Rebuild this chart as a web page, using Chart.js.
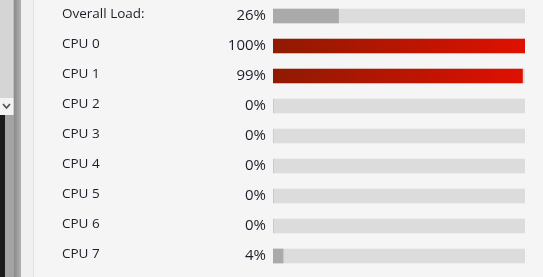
<!DOCTYPE html>
<html>
<head>
    <title>CPU Load</title>
    <style type="text/css">
        body { margin: 0; background: #f5f5f5; width: 543px; height: 277px; overflow: hidden; position: relative; }
        .side { position: absolute; }
        #chart-container { position: absolute; left: 0; top: 0; width: 543px; height: 277px; }
    </style>
    <script src="https://cdn.jsdelivr.net/npm/chart.js@4/dist/chart.umd.min.js"></script>
</head>
<body>
<div class="side" style="left:0;top:0;width:13px;height:98px;background:#d5d5d5;border-right:1px solid #bdbdbd"></div>
<div class="side" style="left:0;top:98px;width:13px;height:17px;background:#f3f3f3;border-right:1px solid #d0d0d0">
    <svg width="13" height="17"><polyline points="3,6 6.5,10 10,6" fill="none" stroke="#555" stroke-width="1.8"/></svg>
</div>
<div class="side" style="left:0;top:115px;width:5px;height:162px;background:#1a1a1a"></div>
<div class="side" style="left:5px;top:115px;width:9px;height:162px;background:#a3a3a3"></div>
<div class="side" style="left:14px;top:0;width:7px;height:277px;background:linear-gradient(to right,#8a8a8a,#b2b2b2)"></div>
<div class="side" style="left:21px;top:0;width:12px;height:277px;background:#f0f0f0;border-right:1px solid #e1e1e1"></div>

<div id="chart-container">
    <canvas id="graphCanvas"></canvas>
</div>

<script>
    var names = ['Overall Load:', 'CPU 0', 'CPU 1', 'CPU 2', 'CPU 3', 'CPU 4', 'CPU 5', 'CPU 6', 'CPU 7'];
    var load = [26, 100, 99, 0, 0, 0, 0, 0, 4];
    var track = [100, 100, 100, 100, 100, 100, 100, 100, 100];

    function fillColor(ctx) {
        var chart = ctx.chart;
        var area = chart.chartArea;
        if (!area) return '#aaaaaa';
        if (ctx.dataIndex == 1 || ctx.dataIndex == 2) {
            var g = chart.ctx.createLinearGradient(area.left, 0, area.right, 0);
            g.addColorStop(0, '#8f1a00');
            g.addColorStop(1, '#e01000');
            return g;
        }
        return '#aaaaaa';
    }

    var rowLabels = {
        id: 'rowLabels',
        afterDraw: function (chart) {
            var c = chart.ctx;
            var y = chart.scales.y;
            c.save();
            c.fillStyle = '#1e1e2a';
            c.textBaseline = 'middle';
            for (var i = 0; i < names.length; i++) {
                var py = y.getPixelForValue(i);
                c.font = '13.5px "Open Sans"';
                c.textAlign = 'left';
                c.fillText(names[i], 62, py - 1.5);
                c.font = '15px "Open Sans"';
                c.textAlign = 'right';
                c.fillText(load[i] + '%', 266, py);
            }
            c.restore();
        }
    };

    new Chart(document.getElementById('graphCanvas'), {
        type: 'bar',
        data: {
            labels: names,
            datasets: [
                { data: load, backgroundColor: fillColor, barThickness: 14, order: 1 },
                { data: track, backgroundColor: '#dcdcdc', barThickness: 14, order: 2 }
            ]
        },
        options: {
            indexAxis: 'y',
            responsive: true,
            maintainAspectRatio: false,
            animation: false,
            grouped: false,
            layout: { padding: { left: 273, right: 18, top: 1, bottom: 6 } },
            scales: {
                x: { display: false, min: 0, max: 100 },
                y: { display: false }
            },
            plugins: { legend: { display: false }, tooltip: { enabled: false } }
        },
        plugins: [rowLabels]
    });
</script>
</body>
</html>
